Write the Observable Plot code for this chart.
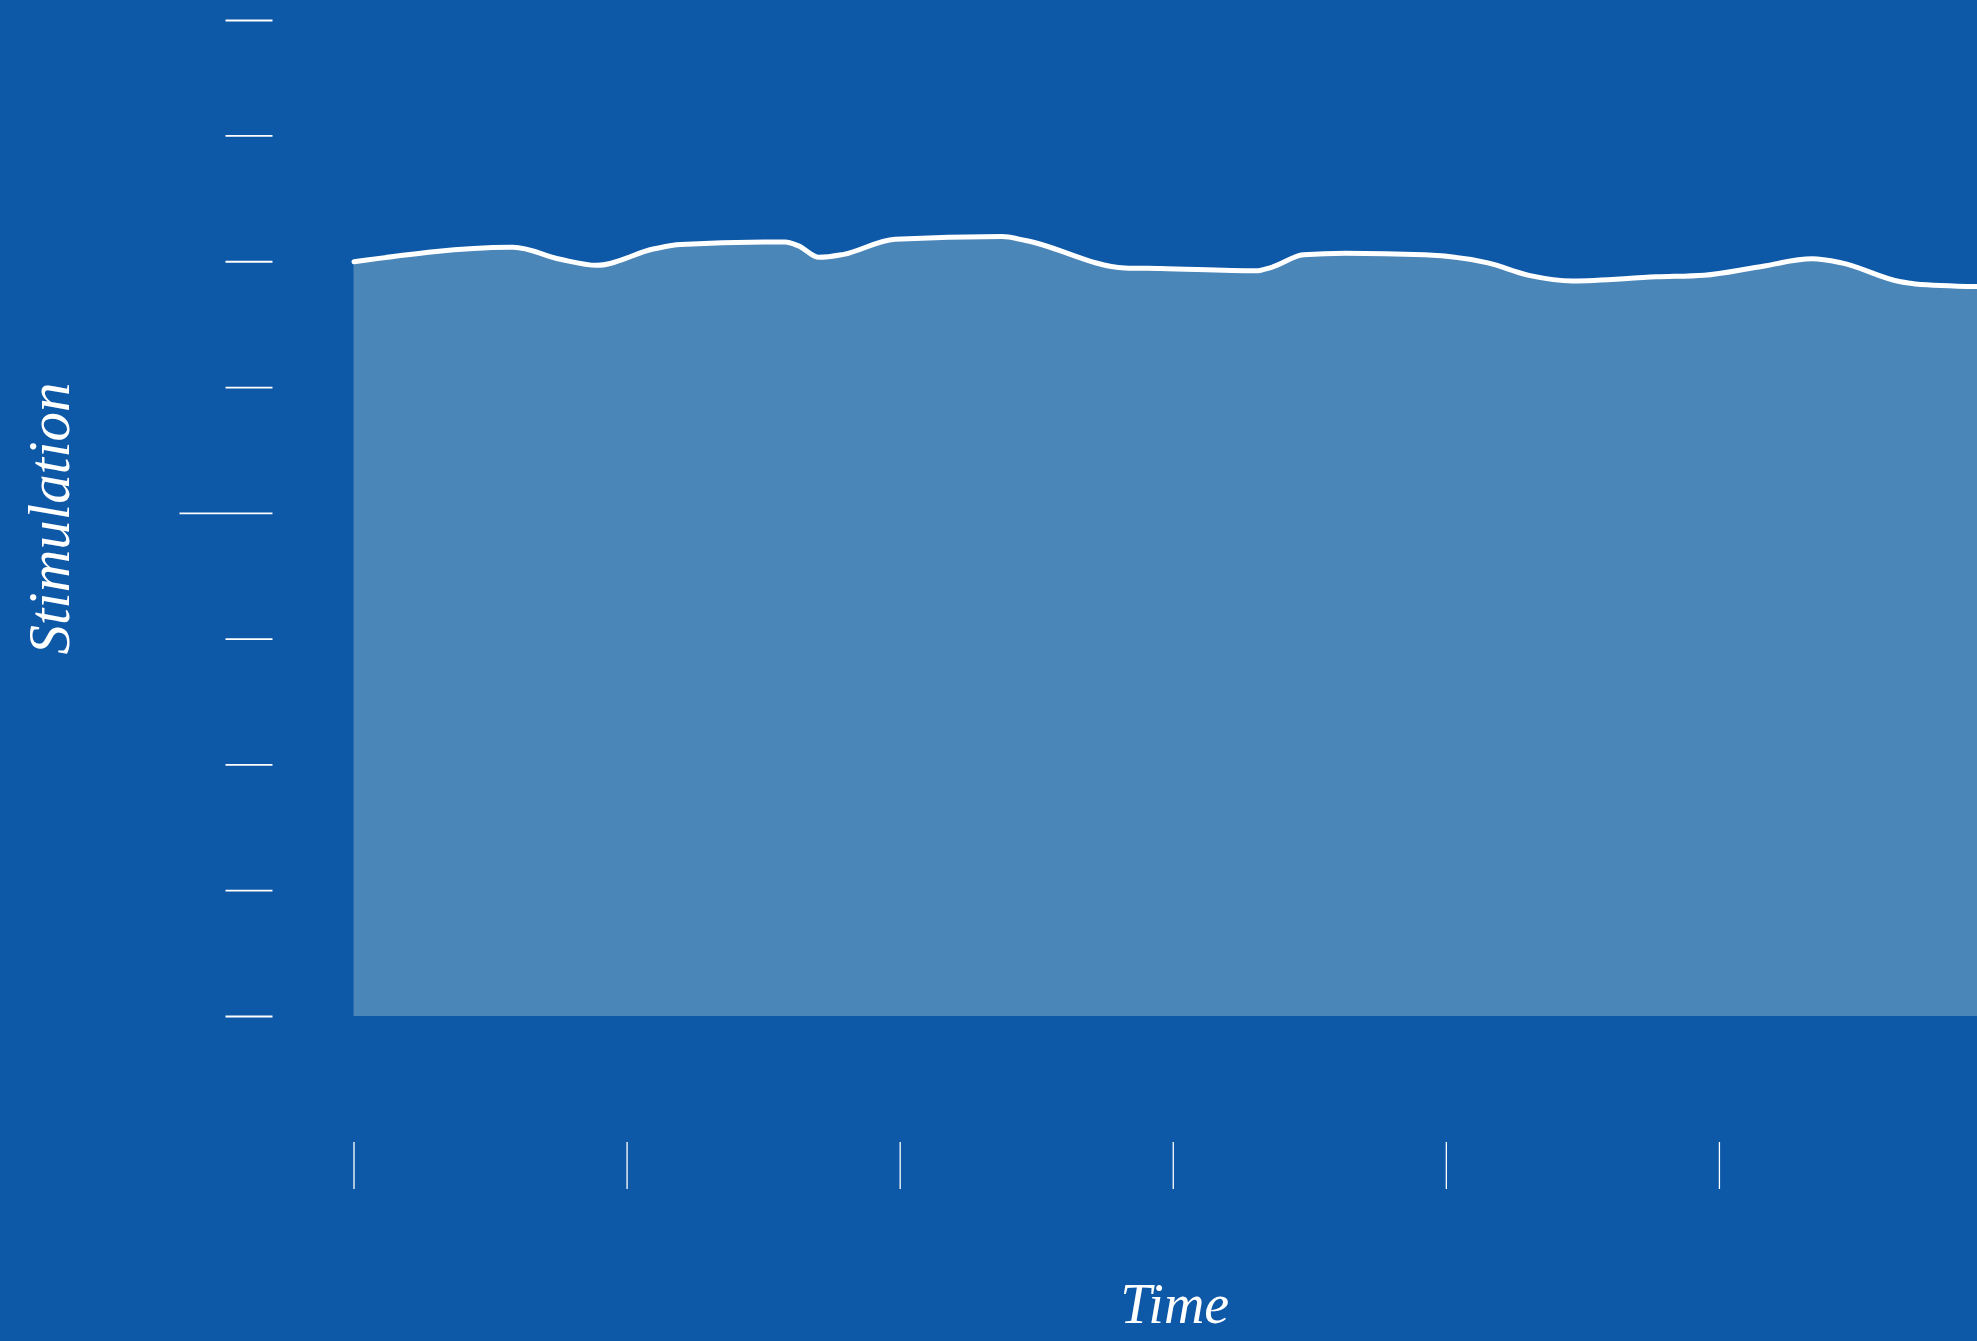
<!DOCTYPE html>
<html>
<head>
<meta charset="utf-8">
<script src="https://cdn.jsdelivr.net/npm/d3@7"></script>
<script src="https://cdn.jsdelivr.net/npm/@observablehq/plot@0.6"></script>
<style>
  html, body { margin: 0; padding: 0; background: #0D59A7; overflow: hidden; }
  #chart svg { display: block; background: #0D59A7; }
</style>
</head>
<body>
<div id="chart"></div>
<script>
// Data
const times = [0.000, 0.583, 0.755, 0.889, 1.100, 1.196, 1.579, 1.626, 1.703, 1.789, 1.981, 2.373, 2.459, 2.823, 2.953, 3.303, 3.360, 3.477, 3.631, 3.920, 4.152, 4.307, 4.462, 4.769, 4.944, 5.137, 5.340, 5.447, 5.659, 5.717, 5.945];
const stimulation = [6.000, 6.115, 6.020, 5.972, 6.103, 6.137, 6.158, 6.128, 6.035, 6.057, 6.179, 6.200, 6.169, 5.951, 5.946, 5.928, 5.956, 6.055, 6.068, 6.055, 5.991, 5.890, 5.848, 5.880, 5.893, 5.956, 6.023, 5.991, 5.843, 5.824, 5.803];
const yTicks = [0, 1, 2, 3, 5, 6, 7, 7.918];
const yLongTicks = [4];
const xTicks = [0, 1, 2, 3, 4, 5];
const xLabel = ["Time"];
const yLabel = ["Stimulation"];

const data = times.map((t, i) => ({time: t, value: stimulation[i]}));

const labelFont = {fontFamily: "Liberation Serif", fontStyle: "italic", fill: "white"};

const chart = Plot.plot({
  width: 1977,
  height: 1341,
  marginTop: 20,
  marginBottom: 325,
  marginLeft: 353.5,
  marginRight: 0,
  style: {background: "#0D59A7", color: "white"},
  x: {domain: [0, 5.945]},
  y: {domain: [0, 7.918]},
  marks: [
    Plot.areaY(data, {x: "time", y: "value", fill: "#4B86B9", curve: "monotone-x"}),
    Plot.lineY(data, {x: "time", y: "value", stroke: "white", strokeWidth: 5, curve: "monotone-x"}),
    Plot.axisY({ticks: yTicks, tickSize: 47, dx: -81, stroke: "white", strokeWidth: 1.8, fill: "none", label: null}),
    Plot.axisY({ticks: yLongTicks, tickSize: 93, dx: -81, stroke: "white", strokeWidth: 1.8, fill: "none", label: null}),
    Plot.axisX({ticks: xTicks, tickSize: 47, dy: 126, stroke: "white", strokeWidth: 1.3, fill: "none", label: null}),
    Plot.text(yLabel, {text: d => d, frameAnchor: "left", dx: -304, rotate: -90, textAnchor: "middle", lineAnchor: "middle", fontSize: 59, ...labelFont}),
    Plot.text(xLabel, {text: d => d, frameAnchor: "bottom", dx: 9, dy: 289, textAnchor: "middle", lineAnchor: "middle", fontSize: 56, ...labelFont})
  ]
});
document.getElementById("chart").appendChild(chart);
</script>
</body>
</html>
